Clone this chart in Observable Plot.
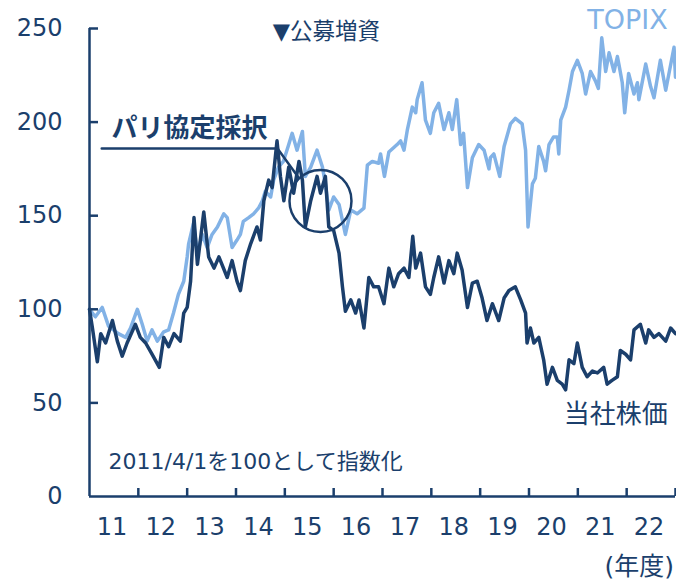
<!DOCTYPE html>
<html><head><meta charset="utf-8">
<script src="https://cdn.jsdelivr.net/npm/d3@7"></script>
<script src="https://cdn.jsdelivr.net/npm/@observablehq/plot@0.6"></script>
<style>html,body{margin:0;padding:0;background:#fff} svg{display:block}</style>
</head><body><div id="chart"></div>
<script>
// TOPIX (2011/4/1 = 100), date as decimal year
const topixT = [2011.25,2011.37,2011.51,2011.64,2011.84,2011.99,2012.09,2012.23,2012.33,2012.43,2012.53,2012.64,2012.77,2012.87,2012.97,2013.07,2013.18,2013.25,2013.28,2013.38,2013.46,2013.56,2013.66,2013.76,2013.87,2014.00,2014.07,2014.17,2014.27,2014.34,2014.40,2014.51,2014.61,2014.71,2014.79,2014.85,2014.96,2015.02,2015.12,2015.22,2015.33,2015.40,2015.50,2015.61,2015.67,2015.78,2015.91,2016.02,2016.08,2016.15,2016.25,2016.36,2016.49,2016.60,2016.73,2016.87,2016.94,2017.04,2017.17,2017.21,2017.29,2017.38,2017.55,2017.62,2017.69,2017.76,2017.86,2017.93,2017.96,2018.06,2018.13,2018.23,2018.30,2018.40,2018.51,2018.61,2018.68,2018.77,2018.85,2018.91,2018.99,2019.09,2019.22,2019.33,2019.43,2019.46,2019.53,2019.65,2019.74,2019.87,2019.97,2020.11,2020.18,2020.23,2020.32,2020.38,2020.45,2020.55,2020.59,2020.66,2020.75,2020.83,2020.86,2020.90,2021.00,2021.07,2021.14,2021.24,2021.34,2021.41,2021.51,2021.61,2021.67,2021.74,2021.82,2021.89,2021.99,2022.06,2022.09,2022.16,2022.21,2022.29,2022.40,2022.47,2022.50,2022.64,2022.74,2022.81,2022.94,2023.05,2023.22,2023.25];
const topixV = [100,96,101,91,87,85,90,100,92,83,89,83,88,89,98,108,115,128,135,146,130,140,133,140,144,151,149,133,137,140,147,149,151,154,158,163,160,169,176,179,188,194,185,195,171,176,185,176,167,153,160,156,140,153,151,154,177,179,178,183,171,184,188,190,185,196,208,205,212,221,201,194,205,210,196,205,196,212,188,194,165,181,188,185,175,181,183,171,187,199,202,199,185,144,167,170,187,179,174,188,192,192,183,201,208,217,227,233,226,215,227,222,218,245,227,237,227,235,231,221,205,226,215,221,212,231,219,213,233,217,240,224];

// Company share price (2011/4/1 = 100)
const stockT = [2011.25,2011.31,2011.41,2011.48,2011.58,2011.72,2011.82,2011.92,2012.02,2012.19,2012.29,2012.40,2012.53,2012.68,2012.77,2012.87,2012.98,2013.11,2013.18,2013.25,2013.32,2013.39,2013.46,2013.59,2013.69,2013.80,2013.90,2014.07,2014.17,2014.27,2014.34,2014.44,2014.55,2014.68,2014.75,2014.82,2014.92,2014.99,2015.09,2015.16,2015.23,2015.33,2015.43,2015.54,2015.61,2015.67,2015.78,2015.91,2015.98,2016.08,2016.15,2016.25,2016.36,2016.43,2016.49,2016.60,2016.70,2016.77,2016.87,2016.97,2017.07,2017.17,2017.28,2017.38,2017.48,2017.58,2017.69,2017.79,2017.87,2017.93,2018.03,2018.13,2018.23,2018.30,2018.40,2018.51,2018.61,2018.71,2018.78,2018.88,2018.99,2019.09,2019.19,2019.29,2019.39,2019.50,2019.63,2019.74,2019.84,2019.97,2020.08,2020.18,2020.21,2020.28,2020.35,2020.45,2020.55,2020.62,2020.73,2020.83,2020.93,2021.00,2021.07,2021.17,2021.24,2021.34,2021.44,2021.55,2021.65,2021.78,2021.85,2021.95,2022.06,2022.12,2022.23,2022.33,2022.40,2022.53,2022.64,2022.70,2022.81,2022.91,2023.05,2023.15,2023.25];
const stockV = [100,90,72,87,82,94,83,75,82,92,85,82,76,69,85,80,87,83,98,101,115,149,124,152,128,122,128,117,126,115,110,126,135,144,137,158,169,165,190,171,158,176,162,179,169,144,158,171,162,171,144,142,130,112,99,105,98,105,90,117,112,112,103,122,112,119,122,117,139,122,130,112,108,117,128,114,126,119,130,121,101,114,115,106,94,103,94,106,110,112,105,98,82,90,82,85,73,60,69,62,60,57,73,71,82,69,64,67,66,69,60,62,64,78,76,73,89,92,82,89,85,87,83,90,87];

// Axis
const yTicks = [0, 50, 100, 150, 200, 250];
const fyStarts = [2012.25,2013.25,2014.25,2015.25,2016.25,2017.25,2018.25,2019.25,2020.25,2021.25,2022.25,2023.25];
const fyMids = [2011.75,2012.75,2013.75,2014.75,2015.75,2016.75,2017.75,2018.75,2019.75,2020.75,2021.75,2022.75];
const fyLabels = ["11","12","13","14","15","16","17","18","19","20","21","22"];

// Annotations
const circleT = [2015.98], circleV = [157.9];
const leaderT = [2011.50, 2015.10, 2015.53], leaderV = [185.9, 185.9, 170.4];
const labelTexts = ["TOPIX", "▼公募増資", "パリ協定採択", "2011/4/1を100として指数化", "当社株価", "(年度)"];
const labelT = [2023.09, 2015.00, 2011.70, 2011.64, 2020.96, 2023.22];
const labelV = [254.3, 248.4, 196.6, 18.7, 43.8, -37.4];

const navy = "#1b3f6c", light = "#82b2e6";
const topix = topixT.map((t, i) => ({t, v: topixV[i]}));
const stock = stockT.map((t, i) => ({t, v: stockV[i]}));
const leader = leaderT.map((t, i) => ({t, v: leaderV[i]}));
const circle = circleT.map((t, i) => ({t, v: circleV[i]}));
const labels = labelTexts.map((s, i) => ({s, t: labelT[i], v: labelV[i]}));
const lab = s => labels.filter(d => d.s === s);

const chart = Plot.plot({
  width: 676, height: 580,
  marginLeft: 89, marginRight: 1, marginTop: 28, marginBottom: 84,
  style: {fontFamily: "'DejaVu Sans', 'Noto Sans CJK JP', sans-serif", color: navy, background: "#fff"},
  x: {type: "linear", domain: [2011.25, 2023.25], axis: null},
  y: {domain: [0, 250], axis: null},
  marks: [
    Plot.axisY(yTicks, {tickSize: 0, tickPadding: 27, fontSize: 24, label: null}),
    Plot.text(fyMids, {x: d => d, text: d => fyLabels[fyMids.indexOf(d)], frameAnchor: "bottom", dy: 38, dx: -2, fontSize: 24, fill: navy}),
    Plot.line(topix, {x: "t", y: "v", stroke: light, strokeWidth: 3.5}),
    Plot.line(stock, {x: "t", y: "v", stroke: navy, strokeWidth: 3.5}),
    Plot.ruleX([2011.25], {stroke: navy, strokeWidth: 2.5}),
    Plot.ruleY([0], {stroke: navy, strokeWidth: 2.5}),
    Plot.tickY(yTicks.slice(1), {y: d => d, stroke: navy, strokeWidth: 2.5, insetRight: 577}),
    Plot.tickX(fyStarts, {x: d => d, stroke: navy, strokeWidth: 2.5, insetTop: 460}),
    Plot.line(leader, {x: "t", y: "v", stroke: navy, strokeWidth: 2.5}),
    Plot.dot(circle, {x: "t", y: "v", r: 31, stroke: navy, strokeWidth: 2.5, fill: "none"}),
    Plot.text(lab("TOPIX"), {x: "t", y: "v", text: "s", textAnchor: "end", fontSize: 27, fill: light}),
    Plot.text(lab("▼公募増資"), {x: "t", y: "v", text: "s", textAnchor: "start", fontSize: 22.5, fill: navy}),
    Plot.text(lab("パリ協定採択"), {x: "t", y: "v", text: "s", textAnchor: "start", fontSize: 26, fontWeight: "bold", fill: navy}),
    Plot.text(labels.filter(d => d.s.startsWith("2011")), {x: "t", y: "v", text: "s", textAnchor: "start", fontSize: 22, fill: navy}),
    Plot.text(lab("当社株価"), {x: "t", y: "v", text: "s", textAnchor: "start", fontSize: 26, fill: navy}),
    Plot.text(lab("(年度)"), {x: "t", y: "v", text: "s", textAnchor: "end", fontSize: 25, fill: navy})
  ]
});
document.getElementById("chart").appendChild(chart);
</script>
</body></html>
